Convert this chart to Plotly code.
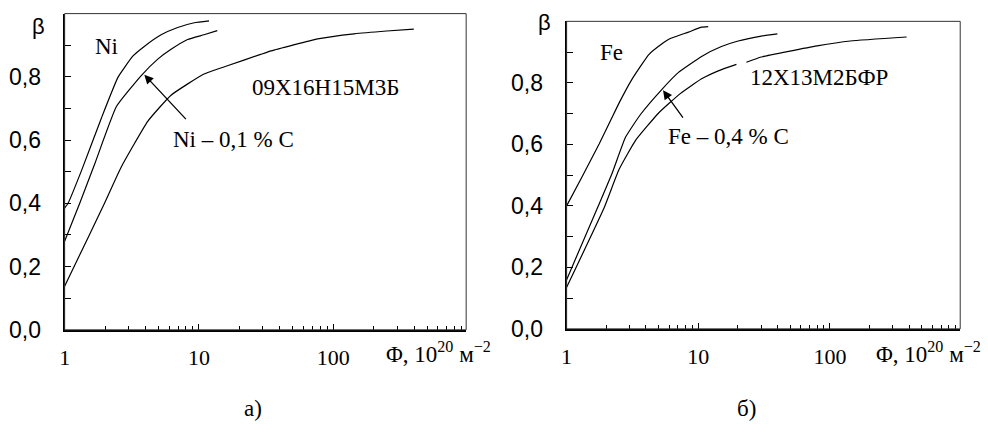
import math
import plotly.graph_objects as go

# ---------------- data ----------------
# panel a)
ni_x = [1, 1.06, 1.34, 1.88, 2.5, 3.23, 3.94, 5.23, 6.95, 9.23, 11.9]
ni_y = [0.385, 0.40, 0.505, 0.67, 0.799, 0.866, 0.897, 0.933, 0.956, 0.971, 0.977]

nic_x = [1, 1.30, 1.68, 2.43, 3.72, 4.94, 6.2, 8.24, 10.9, 13.7]
nic_y = [0.28, 0.402, 0.526, 0.706, 0.804, 0.856, 0.887, 0.918, 0.933, 0.946]

st1_x = [1, 1.5, 1.99, 2.64, 4.17, 6.2, 10.9, 16.3, 28.8, 34.5, 76.5, 143, 250, 398]
st1_y = [0.138, 0.293, 0.402, 0.515, 0.66, 0.742, 0.809, 0.835, 0.871, 0.882, 0.92, 0.936, 0.945, 0.951]

# panel б)
fe_x = [1, 1.32, 1.77, 2.5, 3.15, 4.21, 5.15, 6.13, 8.43, 10.6, 11.9]
fe_y = [0.40, 0.497, 0.602, 0.734, 0.813, 0.892, 0.923, 0.944, 0.965, 0.981, 0.983]

fec_x = [1, 1.71, 2.22, 2.8, 3.64, 5.3, 7.08, 10.6, 15.0, 20.1, 30.1, 39.9]
fec_y = [0.16, 0.392, 0.507, 0.623, 0.697, 0.779, 0.834, 0.886, 0.918, 0.936, 0.952, 0.959]

st2_x = [1, 1.92, 2.5, 3.34, 5.0, 7.3, 10.6, 14.2, 19.5, None, 23.2, 30.1, 80, 143, 383]
st2_y = [0.135, 0.392, 0.518, 0.613, 0.702, 0.765, 0.813, 0.839, 0.86, None, 0.867, 0.884, 0.92, 0.936, 0.949]

x_major = [1, 10, 100]
x_major_text = ["1", "10", "100"]
x_minor = [m * d for d in (1, 10, 100) for m in range(2, 10)]
y_major = [0.0, 0.2, 0.4, 0.6, 0.8]
y_major_text = ["0,0", "0,2", "0,4", "0,6", "0,8"]
y_minor = [0.1, 0.3, 0.5, 0.7, 0.9]

SERIF = "Liberation Serif"
SANS = "Liberation Sans"

fig = go.Figure()
for xs, ys, ax in [(ni_x, ni_y, 1), (nic_x, nic_y, 1), (st1_x, st1_y, 1),
                   (fe_x, fe_y, 2), (fec_x, fec_y, 2), (st2_x, st2_y, 2)]:
    fig.add_trace(go.Scatter(
        x=xs, y=ys, mode="lines",
        line=dict(color="black", width=1.2, shape="spline", smoothing=0.4),
        xaxis="x" if ax == 1 else "x2", yaxis="y" if ax == 1 else "y2",
        connectgaps=False, hoverinfo="skip"))


def xax(domain, anchor):
    return dict(type="log", range=[0, 2.99], domain=domain, anchor=anchor,
                showline=True, linecolor="black", linewidth=2,
                ticks="inside", ticklen=6, tickcolor="black", tickwidth=1,
                tickmode="array", tickvals=x_major, ticktext=x_major_text,
                tickfont=dict(family=SERIF, size=22, color="black"),
                ticklabelstandoff=7,
                minor=dict(tickmode="array", tickvals=x_minor, ticks="inside",
                           ticklen=4, tickcolor="black", tickwidth=1, showgrid=False),
                showgrid=False, zeroline=False, fixedrange=True)


def yax(domain, anchor):
    return dict(range=[0, 1.0], domain=domain, anchor=anchor,
                showline=True, linecolor="black", linewidth=2,
                ticks="inside", ticklen=6, tickcolor="black", tickwidth=1,
                tickmode="array", tickvals=y_major, ticktext=y_major_text,
                tickfont=dict(family=SANS, size=23, color="black"),
                ticklabelstandoff=17,
                minor=dict(tickmode="array", tickvals=y_minor, ticks="inside",
                           ticklen=6, tickcolor="black", tickwidth=1, showgrid=False),
                showgrid=False, zeroline=False, fixedrange=True)


fig.update_layout(
    width=988, height=434, margin=dict(l=0, r=0, t=0, b=0),
    paper_bgcolor="white", plot_bgcolor="white", showlegend=False,
    xaxis=xax([0.0597, 0.4686], "y"),
    yaxis=yax([0.2166, 0.9677], "x"),
    xaxis2=xax([0.5709, 0.9717], "y2"),
    yaxis2=yax([0.2189, 0.9493], "x2"),
)

# frame (thin top / right border)
for xr, yr in [("x domain", "y domain"), ("x2 domain", "y2 domain")]:
    fig.add_shape(type="rect", xref=xr, yref=yr, x0=0, x1=1, y0=0, y1=1,
                  line=dict(color="#333", width=1), layer="above")

L = math.log10
ann = []


def txt(t, x, y, xr, yr, size=23, fam=SERIF, xa="center", ya="middle"):
    ann.append(dict(text=t, x=x, y=y, xref=xr, yref=yr, showarrow=False,
                    font=dict(family=fam, size=size, color="black"),
                    xanchor=xa, yanchor=ya))


# panel a labels
txt("Ni", L(2.05), 0.896, "x", "y")
txt("09X16H15M3Б", L(87.3), 0.767, "x", "y")
txt("Ni – 0,1 % C", L(18.2), 0.601, "x", "y")
# panel б labels
txt("Fe", L(2.19), 0.898, "x2", "y2")
txt("12X13M2БФР", L(82.6), 0.816, "x2", "y2")
txt("Fe – 0,4 % C", L(17.0), 0.627, "x2", "y2")

# axis symbols and captions
txt("β", 0.0334, 0.938, "paper", "paper", size=22, fam=SANS)
txt("β", 0.5486, 0.947, "paper", "paper", size=22, fam=SANS)
txt("Φ, 10<sup>20</sup> м<sup>−2</sup>", 0.3846, 0.162, "paper", "paper", xa="left")
txt("Φ, 10<sup>20</sup> м<sup>−2</sup>", 0.8836, 0.162, "paper", "paper", xa="left")
txt("а)", 0.252, 0.030, "paper", "paper")
txt("б)", 0.754, 0.030, "paper", "paper")

# arrows
ann.append(dict(text="", x=L(3.92), y=0.807, xref="x", yref="y", ax=43, ay=46,
                showarrow=True, arrowhead=2, arrowsize=1.4, arrowwidth=1.3,
                arrowcolor="black"))
ann.append(dict(text="", x=L(5.4), y=0.776, xref="x2", yref="y2", ax=21, ay=29,
                showarrow=True, arrowhead=2, arrowsize=1.4, arrowwidth=1.3,
                arrowcolor="black"))

fig.update_layout(annotations=ann)
fig.write_html("out.html")
